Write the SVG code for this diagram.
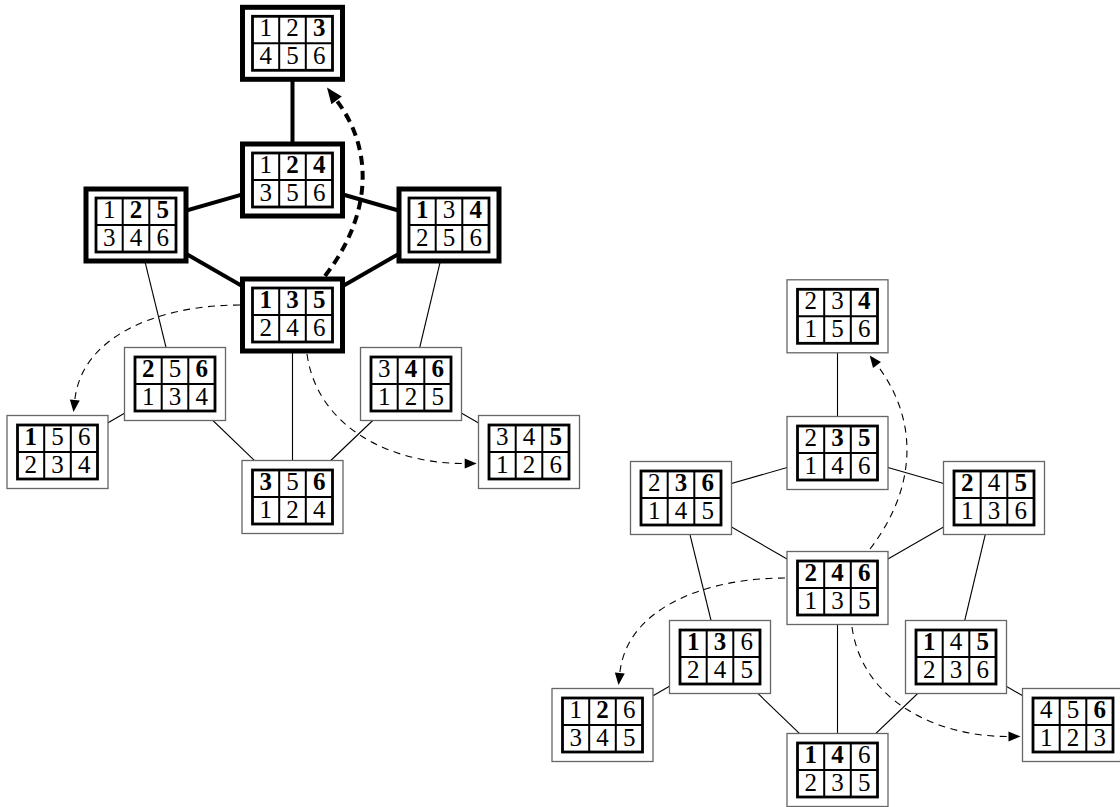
<svg xmlns="http://www.w3.org/2000/svg" width="1120" height="807" viewBox="0 0 1120 807">
<style>
.bg{fill:#fff}
.thin{fill:#fff;stroke:#666;stroke-width:1.3}
.thick{fill:#fff;stroke:#000;stroke-width:5}
.tbl{fill:#fff;stroke:#000;stroke-width:2.8}
.grid{stroke:#000;stroke-width:2}
.d{font-family:'Liberation Serif','DejaVu Serif',serif;font-size:25px;text-anchor:middle;fill:#000}
.b{font-weight:bold}
.e{stroke:#000;stroke-width:1.1;fill:none}
.ek{stroke:#000;stroke-width:4;fill:none}
.da{stroke:#000;stroke-width:1.1;fill:none;stroke-dasharray:7 5.5;marker-end:url(#ah)}
.dk{stroke:#000;stroke-width:4;fill:none;stroke-dasharray:9 6;marker-end:url(#ahk)}
</style>
<defs>
<marker id="ah" markerUnits="userSpaceOnUse" markerWidth="14" markerHeight="12" refX="0" refY="5" orient="auto" overflow="visible"><path d="M0,0 L12,5 L0,10 z" fill="#000"/></marker>
<marker id="ahk" markerUnits="userSpaceOnUse" markerWidth="18" markerHeight="15" refX="0" refY="6.5" orient="auto" overflow="visible"><path d="M0,0 L16,6.5 L0,13 z" fill="#000"/></marker>
<g id="tb">
<rect class="tbl" x="-40" y="-27" width="80" height="54"/>
<line class="grid" x1="-13.3" y1="-27" x2="-13.3" y2="27"/>
<line class="grid" x1="13.3" y1="-27" x2="13.3" y2="27"/>
<line class="grid" x1="-40" y1="0" x2="40" y2="0"/>
</g>
</defs>
<rect class="bg" x="0" y="0" width="1120" height="807"/>
<g id="connectors">
<line class="ek" x1="292.5" y1="43.3" x2="292.5" y2="180"/>
<line class="ek" x1="292.5" y1="180" x2="136" y2="225"/>
<line class="ek" x1="292.5" y1="180" x2="449" y2="225"/>
<line class="ek" x1="136" y1="225" x2="292.5" y2="315"/>
<line class="ek" x1="449" y1="225" x2="292.5" y2="315"/>
<line class="e" x1="136" y1="225" x2="175" y2="384"/>
<line class="e" x1="449" y1="225" x2="411" y2="384"/>
<line class="e" x1="175" y1="384" x2="57.5" y2="452"/>
<line class="e" x1="175" y1="384" x2="292.5" y2="497"/>
<line class="e" x1="292.5" y1="315" x2="292.5" y2="497"/>
<line class="e" x1="411" y1="384" x2="292.5" y2="497"/>
<line class="e" x1="411" y1="384" x2="529" y2="452"/>
<line class="e" x1="837.5" y1="316.3" x2="837.5" y2="453"/>
<line class="e" x1="837.5" y1="453" x2="681" y2="498"/>
<line class="e" x1="837.5" y1="453" x2="994" y2="498"/>
<line class="e" x1="681" y1="498" x2="837.5" y2="588"/>
<line class="e" x1="994" y1="498" x2="837.5" y2="588"/>
<line class="e" x1="681" y1="498" x2="720" y2="657"/>
<line class="e" x1="994" y1="498" x2="956" y2="657"/>
<line class="e" x1="720" y1="657" x2="602.5" y2="725"/>
<line class="e" x1="720" y1="657" x2="837.5" y2="770"/>
<line class="e" x1="837.5" y1="588" x2="837.5" y2="770"/>
<line class="e" x1="956" y1="657" x2="837.5" y2="770"/>
<line class="e" x1="956" y1="657" x2="1073" y2="725"/>
<path class="dk" d="M325,276 C372,215 374,150 336.6,100.4"/>
<path class="da" d="M240,305 C162,305 82,334 74.8,400"/>
<path class="da" d="M307,354 C318,432 398,464 464.7,463.5"/>
<path class="da" d="M870,549 C917,488 919,420 877,365"/>
<path class="da" d="M785,578 C707,578 627,607 619.8,673"/>
<path class="da" d="M852,627 C863,705 943,737 1008.5,736.5"/>
</g>
<g id="n123" transform="translate(292.5,43.3)"><rect class="thick" x="-50" y="-36" width="100" height="72"/><use href="#tb"/><text class="d" x="-26.7" y="-7.5">1</text><text class="d" x="0" y="-7.5">2</text><text class="d b" x="26.7" y="-7.5">3</text><text class="d" x="-26.7" y="20.5">4</text><text class="d" x="0" y="20.5">5</text><text class="d" x="26.7" y="20.5">6</text></g>
<g id="n124" transform="translate(292.5,180)"><rect class="thick" x="-50" y="-36" width="100" height="72"/><use href="#tb"/><text class="d" x="-26.7" y="-7.5">1</text><text class="d b" x="0" y="-7.5">2</text><text class="d b" x="26.7" y="-7.5">4</text><text class="d" x="-26.7" y="20.5">3</text><text class="d" x="0" y="20.5">5</text><text class="d" x="26.7" y="20.5">6</text></g>
<g id="n125" transform="translate(136,225)"><rect class="thick" x="-50" y="-36" width="100" height="72"/><use href="#tb"/><text class="d" x="-26.7" y="-7.5">1</text><text class="d b" x="0" y="-7.5">2</text><text class="d b" x="26.7" y="-7.5">5</text><text class="d" x="-26.7" y="20.5">3</text><text class="d" x="0" y="20.5">4</text><text class="d" x="26.7" y="20.5">6</text></g>
<g id="n134" transform="translate(449,225)"><rect class="thick" x="-50" y="-36" width="100" height="72"/><use href="#tb"/><text class="d b" x="-26.7" y="-7.5">1</text><text class="d" x="0" y="-7.5">3</text><text class="d b" x="26.7" y="-7.5">4</text><text class="d" x="-26.7" y="20.5">2</text><text class="d" x="0" y="20.5">5</text><text class="d" x="26.7" y="20.5">6</text></g>
<g id="n135" transform="translate(292.5,315)"><rect class="thick" x="-50" y="-36" width="100" height="72"/><use href="#tb"/><text class="d b" x="-26.7" y="-7.5">1</text><text class="d b" x="0" y="-7.5">3</text><text class="d b" x="26.7" y="-7.5">5</text><text class="d" x="-26.7" y="20.5">2</text><text class="d" x="0" y="20.5">4</text><text class="d" x="26.7" y="20.5">6</text></g>
<g id="n256" transform="translate(175,384)"><rect class="thin" x="-50.5" y="-36.5" width="101" height="73"/><use href="#tb"/><text class="d b" x="-26.7" y="-7.5">2</text><text class="d" x="0" y="-7.5">5</text><text class="d b" x="26.7" y="-7.5">6</text><text class="d" x="-26.7" y="20.5">1</text><text class="d" x="0" y="20.5">3</text><text class="d" x="26.7" y="20.5">4</text></g>
<g id="n156" transform="translate(57.5,452)"><rect class="thin" x="-50.5" y="-36.5" width="101" height="73"/><use href="#tb"/><text class="d b" x="-26.7" y="-7.5">1</text><text class="d" x="0" y="-7.5">5</text><text class="d" x="26.7" y="-7.5">6</text><text class="d" x="-26.7" y="20.5">2</text><text class="d" x="0" y="20.5">3</text><text class="d" x="26.7" y="20.5">4</text></g>
<g id="n356" transform="translate(292.5,497)"><rect class="thin" x="-50.5" y="-36.5" width="101" height="73"/><use href="#tb"/><text class="d b" x="-26.7" y="-7.5">3</text><text class="d" x="0" y="-7.5">5</text><text class="d b" x="26.7" y="-7.5">6</text><text class="d" x="-26.7" y="20.5">1</text><text class="d" x="0" y="20.5">2</text><text class="d" x="26.7" y="20.5">4</text></g>
<g id="n346" transform="translate(411,384)"><rect class="thin" x="-50.5" y="-36.5" width="101" height="73"/><use href="#tb"/><text class="d" x="-26.7" y="-7.5">3</text><text class="d b" x="0" y="-7.5">4</text><text class="d b" x="26.7" y="-7.5">6</text><text class="d" x="-26.7" y="20.5">1</text><text class="d" x="0" y="20.5">2</text><text class="d" x="26.7" y="20.5">5</text></g>
<g id="n345" transform="translate(529,452)"><rect class="thin" x="-50.5" y="-36.5" width="101" height="73"/><use href="#tb"/><text class="d" x="-26.7" y="-7.5">3</text><text class="d" x="0" y="-7.5">4</text><text class="d b" x="26.7" y="-7.5">5</text><text class="d" x="-26.7" y="20.5">1</text><text class="d" x="0" y="20.5">2</text><text class="d" x="26.7" y="20.5">6</text></g>
<g id="n234" transform="translate(837.5,316.3)"><rect class="thin" x="-50.5" y="-36.5" width="101" height="73"/><use href="#tb"/><text class="d" x="-26.7" y="-7.5">2</text><text class="d" x="0" y="-7.5">3</text><text class="d b" x="26.7" y="-7.5">4</text><text class="d" x="-26.7" y="20.5">1</text><text class="d" x="0" y="20.5">5</text><text class="d" x="26.7" y="20.5">6</text></g>
<g id="n235" transform="translate(837.5,453)"><rect class="thin" x="-50.5" y="-36.5" width="101" height="73"/><use href="#tb"/><text class="d" x="-26.7" y="-7.5">2</text><text class="d b" x="0" y="-7.5">3</text><text class="d b" x="26.7" y="-7.5">5</text><text class="d" x="-26.7" y="20.5">1</text><text class="d" x="0" y="20.5">4</text><text class="d" x="26.7" y="20.5">6</text></g>
<g id="n236" transform="translate(681,498)"><rect class="thin" x="-50.5" y="-36.5" width="101" height="73"/><use href="#tb"/><text class="d" x="-26.7" y="-7.5">2</text><text class="d b" x="0" y="-7.5">3</text><text class="d b" x="26.7" y="-7.5">6</text><text class="d" x="-26.7" y="20.5">1</text><text class="d" x="0" y="20.5">4</text><text class="d" x="26.7" y="20.5">5</text></g>
<g id="n245" transform="translate(994,498)"><rect class="thin" x="-50.5" y="-36.5" width="101" height="73"/><use href="#tb"/><text class="d b" x="-26.7" y="-7.5">2</text><text class="d" x="0" y="-7.5">4</text><text class="d b" x="26.7" y="-7.5">5</text><text class="d" x="-26.7" y="20.5">1</text><text class="d" x="0" y="20.5">3</text><text class="d" x="26.7" y="20.5">6</text></g>
<g id="n246" transform="translate(837.5,588)"><rect class="thin" x="-50.5" y="-36.5" width="101" height="73"/><use href="#tb"/><text class="d b" x="-26.7" y="-7.5">2</text><text class="d b" x="0" y="-7.5">4</text><text class="d b" x="26.7" y="-7.5">6</text><text class="d" x="-26.7" y="20.5">1</text><text class="d" x="0" y="20.5">3</text><text class="d" x="26.7" y="20.5">5</text></g>
<g id="n136" transform="translate(720,657)"><rect class="thin" x="-50.5" y="-36.5" width="101" height="73"/><use href="#tb"/><text class="d b" x="-26.7" y="-7.5">1</text><text class="d b" x="0" y="-7.5">3</text><text class="d" x="26.7" y="-7.5">6</text><text class="d" x="-26.7" y="20.5">2</text><text class="d" x="0" y="20.5">4</text><text class="d" x="26.7" y="20.5">5</text></g>
<g id="n126" transform="translate(602.5,725)"><rect class="thin" x="-50.5" y="-36.5" width="101" height="73"/><use href="#tb"/><text class="d" x="-26.7" y="-7.5">1</text><text class="d b" x="0" y="-7.5">2</text><text class="d" x="26.7" y="-7.5">6</text><text class="d" x="-26.7" y="20.5">3</text><text class="d" x="0" y="20.5">4</text><text class="d" x="26.7" y="20.5">5</text></g>
<g id="n146" transform="translate(837.5,770)"><rect class="thin" x="-50.5" y="-36.5" width="101" height="73"/><use href="#tb"/><text class="d b" x="-26.7" y="-7.5">1</text><text class="d b" x="0" y="-7.5">4</text><text class="d" x="26.7" y="-7.5">6</text><text class="d" x="-26.7" y="20.5">2</text><text class="d" x="0" y="20.5">3</text><text class="d" x="26.7" y="20.5">5</text></g>
<g id="n145" transform="translate(956,657)"><rect class="thin" x="-50.5" y="-36.5" width="101" height="73"/><use href="#tb"/><text class="d b" x="-26.7" y="-7.5">1</text><text class="d" x="0" y="-7.5">4</text><text class="d b" x="26.7" y="-7.5">5</text><text class="d" x="-26.7" y="20.5">2</text><text class="d" x="0" y="20.5">3</text><text class="d" x="26.7" y="20.5">6</text></g>
<g id="n456" transform="translate(1073,725)"><rect class="thin" x="-50.5" y="-36.5" width="101" height="73"/><use href="#tb"/><text class="d" x="-26.7" y="-7.5">4</text><text class="d" x="0" y="-7.5">5</text><text class="d b" x="26.7" y="-7.5">6</text><text class="d" x="-26.7" y="20.5">1</text><text class="d" x="0" y="20.5">2</text><text class="d" x="26.7" y="20.5">3</text></g>
</svg>
